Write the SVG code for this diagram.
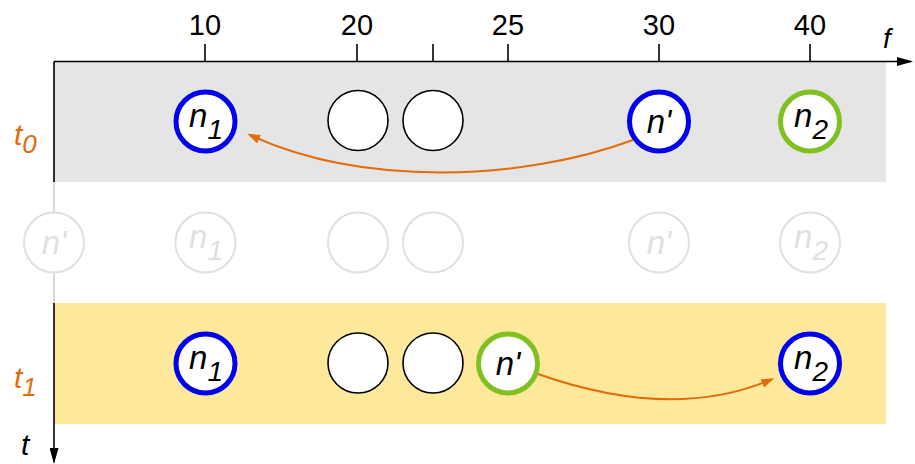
<svg xmlns="http://www.w3.org/2000/svg" width="915" height="464" viewBox="0 0 915 464">
<defs>
<style>
text{font-family:"Liberation Sans",Arial,sans-serif;}
.tick{font-size:29px;fill:#000;text-anchor:middle;}
.ax{stroke:#000;stroke-width:1.6;fill:none;}
.lbl{font-size:33px;font-style:italic;fill:#000;text-anchor:middle;}
.sub{font-size:28px;}
.tl{font-size:30px;font-style:italic;fill:#e36c0a;}
.tsub{font-size:26px;}
.node{fill:#fff;}
.blue{stroke:#0000f0;stroke-width:5;}
.green{stroke:#80c020;stroke-width:5;}
.plain{stroke:#000;stroke-width:1.6;}
.faint{fill:#fff;stroke:#e0e0e0;stroke-width:2;}
.faint-t{fill:#e0e0e0;}
.edge{stroke:#e36c0a;stroke-width:2;fill:none;}
</style>
<marker id="ah" markerUnits="userSpaceOnUse" viewBox="0 0 13 9" markerWidth="13" markerHeight="9" refX="10" refY="4.5" orient="auto">
<path d="M0,0 L13,4.5 L0,9 z" fill="#e36c0a"/>
</marker>
<marker id="axh" markerUnits="userSpaceOnUse" viewBox="0 0 16 9" markerWidth="16" markerHeight="9" refX="14" refY="4.5" orient="auto">
<path d="M0,0 L16,4.5 L0,9 z" fill="#000"/>
</marker>
</defs>

<g id="bands">
<rect x="54" y="61" width="832" height="121" fill="#e5e5e5"/>
<rect x="54" y="303" width="832" height="121" fill="#fde89b"/>
</g>

<g id="axes">
<line x1="54" y1="182" x2="54" y2="303" stroke="#d0d0d0" stroke-width="1.6"/>
<line class="ax" x1="54" y1="61.5" x2="54" y2="182"/>
<line class="ax" x1="54" y1="303" x2="54" y2="462" marker-end="url(#axh)"/>
<line class="ax" x1="54" y1="61.5" x2="911" y2="61.5" marker-end="url(#axh)"/>
<g class="ax">
<line x1="205" y1="44" x2="205" y2="61"/>
<line x1="357" y1="44" x2="357" y2="61"/>
<line x1="433" y1="44" x2="433" y2="61"/>
<line x1="508" y1="44" x2="508" y2="61"/>
<line x1="659" y1="44" x2="659" y2="61"/>
<line x1="810" y1="44" x2="810" y2="61"/>
</g>
<text class="tick" x="205" y="35">10</text>
<text class="tick" x="357" y="35">20</text>
<text class="tick" x="508" y="35">25</text>
<text class="tick" x="659" y="35">30</text>
<text class="tick" x="810" y="35">40</text>
<text x="883" y="48" font-size="28" font-style="italic" fill="#000">f</text>
<text x="21" y="455" font-size="30" font-style="italic" fill="#000">t</text>
<text class="tl" x="14" y="145">t<tspan class="tsub" dy="8">0</tspan></text>
<text class="tl" x="14" y="388">t<tspan class="tsub" dy="8">1</tspan></text>
</g>

<g id="row0">
<g id="t0-n1"><circle class="node blue" cx="205.5" cy="121.5" r="29.5"/><text class="lbl" x="206" y="127">n<tspan class="sub" dy="12">1</tspan></text></g>
<g id="t0-c20"><circle class="node plain" cx="358" cy="120.5" r="30"/></g>
<g id="t0-c22"><circle class="node plain" cx="433" cy="120.5" r="30"/></g>
<g id="t0-np"><circle class="node blue" cx="659" cy="121.5" r="29.5"/><text class="lbl" x="659" y="133">n'</text></g>
<g id="t0-n2"><circle class="node green" cx="810" cy="121.5" r="29.5"/><text class="lbl" x="811" y="127">n<tspan class="sub" dy="12">2</tspan></text></g>
</g>

<g id="rowmid">
<g id="m-np0"><circle class="faint" cx="54" cy="242.5" r="30"/><text class="lbl faint-t" x="54" y="254">n'</text></g>
<g id="m-n1"><circle class="faint" cx="205.5" cy="242.5" r="30"/><text class="lbl faint-t" x="206" y="248">n<tspan class="sub" dy="12">1</tspan></text></g>
<g id="m-c20"><circle class="faint" cx="358" cy="242.5" r="30"/></g>
<g id="m-c22"><circle class="faint" cx="433" cy="242.5" r="30"/></g>
<g id="m-np"><circle class="faint" cx="659" cy="242.5" r="30"/><text class="lbl faint-t" x="659" y="254">n'</text></g>
<g id="m-n2"><circle class="faint" cx="810" cy="242.5" r="30"/><text class="lbl faint-t" x="811" y="248">n<tspan class="sub" dy="12">2</tspan></text></g>
</g>

<g id="row1">
<g id="t1-n1"><circle class="node blue" cx="205.5" cy="363.5" r="29.5"/><text class="lbl" x="206" y="369">n<tspan class="sub" dy="12">1</tspan></text></g>
<g id="t1-c20"><circle class="node plain" cx="358" cy="363" r="30"/></g>
<g id="t1-c22"><circle class="node plain" cx="433" cy="363" r="30"/></g>
<g id="t1-np"><circle class="node green" cx="508" cy="363.5" r="29.5"/><text class="lbl" x="508" y="375">n'</text></g>
<g id="t1-n2"><circle class="node blue" cx="810" cy="363.5" r="29.5"/><text class="lbl" x="811" y="369">n<tspan class="sub" dy="12">2</tspan></text></g>
</g>

<g id="connectors">
<path class="edge" d="M633,140 C520,182 360,186 250,135" marker-end="url(#ah)"/>
<path class="edge" d="M538,374 C620,403 700,410 771.5,379.5" marker-end="url(#ah)"/>
</g>
</svg>
